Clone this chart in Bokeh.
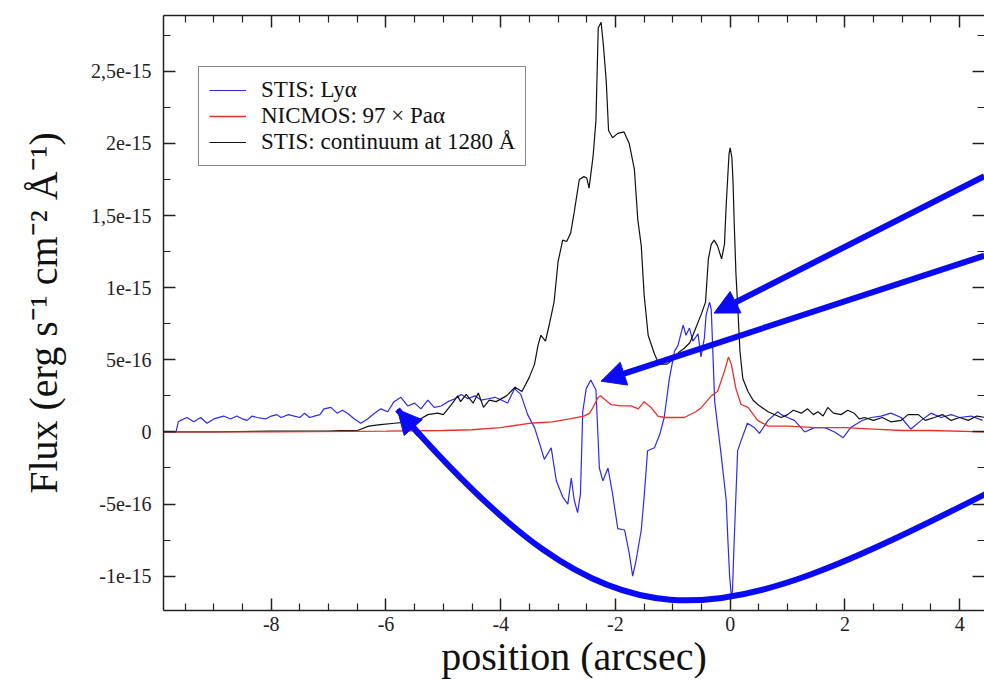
from bokeh.plotting import figure
from bokeh.models import (Range1d, FixedTicker, LinearAxis, Legend, LegendItem,
                          Arrow, NormalHead, ColumnDataSource)
from bokeh.embed import file_html
from bokeh.resources import INLINE

# ---------------- data (flux in units of 1e-15 erg s^-1 cm^-2 A^-1) ----------------
blue_x = [-9.87, -9.66, -9.62, -9.58, -9.47, -9.35, -9.23, -9.12, -9.0, -8.83, -8.71, -8.6,
          -8.5, -8.42, -8.33, -8.25, -8.1, -8.0, -7.9, -7.83, -7.7, -7.6, -7.5, -7.42, -7.33,
          -7.25, -7.15, -7.08, -6.96, -6.85, -6.76, -6.67, -6.55, -6.44, -6.32, -6.2, -6.09,
          -5.97, -5.86, -5.74, -5.62, -5.5, -5.39, -5.27, -5.16, -5.04, -4.92, -4.8, -4.69,
          -4.57, -4.45, -4.34, -4.22, -4.1, -3.98, -3.88, -3.76, -3.65, -3.53, -3.41, -3.30,
          -3.24, -3.12, -3.03, -2.92, -2.83, -2.77, -2.72, -2.66, -2.61, -2.57, -2.51, -2.43,
          -2.34, -2.28, -2.22, -2.13, -2.05, -1.96, -1.84, -1.76, -1.70, -1.64, -1.55, -1.50,
          -1.44, -1.32, -1.23, -1.15, -1.06, -0.97, -0.91, -0.82, -0.77, -0.71, -0.65, -0.56,
          -0.51, -0.45, -0.42, -0.36, -0.33, -0.27, -0.16, -0.07, -0.04, -0.01, 0.02, 0.04,
          0.07, 0.13, 0.19, 0.30, 0.42, 0.51, 0.66, 0.83, 0.89, 1.0, 1.12, 1.3, 1.47, 1.65,
          1.82, 1.97, 2.1, 2.3, 2.46, 2.63, 2.8, 2.98, 3.15, 3.33, 3.5, 3.68, 3.85, 4.0, 4.2, 4.4]
blue_flux = [0.0, 0.0, 0.07, 0.08, 0.10, 0.07, 0.10, 0.06, 0.09, 0.11, 0.09, 0.11,
             0.09, 0.08, 0.11, 0.10, 0.09, 0.11, 0.12, 0.10, 0.12, 0.11, 0.10, 0.13, 0.10,
             0.11, 0.12, 0.16, 0.17, 0.13, 0.15, 0.13, 0.09, 0.06, 0.09, 0.13, 0.16,
             0.14, 0.21, 0.24, 0.18, 0.20, 0.16, 0.22, 0.17, 0.18, 0.21, 0.23, 0.26,
             0.23, 0.25, 0.22, 0.23, 0.24, 0.22, 0.20, 0.30, 0.26, 0.12, 0.03, -0.11,
             -0.19, -0.11, -0.34, -0.45, -0.50, -0.32, -0.47, -0.56, -0.43, 0.14, 0.30, 0.36,
             0.29, -0.25, -0.34, -0.25, -0.43, -0.67, -0.68, -0.84, -1.0, -0.89, -0.68, -0.45,
             -0.13, -0.11, -0.02, 0.10, 0.37, 0.56, 0.60, 0.74, 0.67, 0.72, 0.63, 0.68,
             0.52, 0.65, 0.81, 0.90, 0.85, 0.21, -0.15, -0.47, -0.75, -1.0, -1.14, -1.1,
             -0.75, -0.13, -0.06, 0.06, 0.03, -0.01, 0.08, 0.14, 0.12, 0.10, 0.08, 0.0, 0.03, 0.03,
             0.0, -0.04, 0.03, 0.08, 0.10, 0.11, 0.13, 0.10, 0.02, 0.08, 0.13, 0.10, 0.12, 0.10, 0.11, 0.08]

red_x = [-9.87, -8.0, -6.0, -5.0, -4.5, -4.0, -3.5, -3.1, -2.8, -2.55, -2.45, -2.39, -2.30,
         -2.26, -2.2, -2.08, -1.9, -1.73, -1.6, -1.5, -1.38, -1.26, -1.15, -0.8, -0.6, -0.5,
         -0.33, -0.22, -0.1, -0.03, 0.02, 0.1, 0.19, 0.31, 0.48, 0.66, 1.0, 1.5, 2.0, 2.5,
         3.0, 3.5, 4.45]
red_flux = [0.0, 0.0, 0.005, 0.01, 0.015, 0.03, 0.06, 0.07, 0.09, 0.11, 0.13, 0.17, 0.24,
            0.25, 0.23, 0.19, 0.18, 0.18, 0.16, 0.21, 0.17, 0.11, 0.10, 0.10, 0.14, 0.17,
            0.25, 0.28, 0.42, 0.52, 0.47, 0.30, 0.19, 0.17, 0.08, 0.04, 0.04, 0.03, 0.03, 0.02,
            0.01, 0.01, 0.0]

black_x = [-9.87, -9.6, -9.0, -8.0, -7.0, -6.8, -6.5, -6.3, -6.1, -5.85, -5.6, -5.4, -5.27,
           -5.1, -5.0, -4.86, -4.75, -4.7, -4.6, -4.48, -4.39, -4.3, -4.2, -4.08, -3.9, -3.75,
           -3.63, -3.5, -3.41, -3.35, -3.3, -3.22, -3.15, -3.07, -3.0, -2.92, -2.85, -2.78,
           -2.72, -2.63, -2.55, -2.5, -2.46, -2.39, -2.34, -2.30, -2.25, -2.21, -2.16, -2.12,
           -2.05, -1.96, -1.85, -1.76, -1.67, -1.61, -1.55, -1.5, -1.43, -1.32, -1.24, -1.1,
           -1.0, -0.9, -0.8, -0.7, -0.6, -0.5, -0.43, -0.38, -0.33, -0.28, -0.22, -0.15, -0.1,
           -0.07, -0.02, 0.0, 0.03, 0.05, 0.07, 0.1, 0.14, 0.17, 0.22, 0.31, 0.4, 0.48, 0.66,
           0.89, 1.0, 1.1, 1.24, 1.35, 1.45, 1.53, 1.62, 1.7, 1.8, 1.93, 2.05, 2.16, 2.25, 2.34,
           2.5, 2.65, 2.8, 2.98, 3.1, 3.28, 3.4, 3.56, 3.7, 3.85, 4.0, 4.15, 4.3, 4.45]
black_flux = [0.0, 0.0, 0.0, 0.005, 0.005, 0.01, 0.01, 0.04, 0.05, 0.06, 0.07, 0.09, 0.12,
              0.13, 0.12, 0.19, 0.25, 0.21, 0.26, 0.20, 0.27, 0.17, 0.22, 0.21, 0.25, 0.31,
              0.28, 0.38, 0.47, 0.60, 0.67, 0.63, 0.75, 0.90, 1.18, 1.33, 1.32, 1.38,
              1.52, 1.75, 1.77, 1.76, 1.69, 1.91, 2.16, 2.80, 2.84, 2.68, 2.43, 2.09,
              2.04, 2.07, 2.08, 2.0, 1.82, 1.47, 1.29, 0.95, 0.67, 0.54, 0.47, 0.47,
              0.50, 0.55, 0.58, 0.62, 0.72, 0.82, 0.90, 1.20, 1.30, 1.33, 1.29, 1.20, 1.30,
              1.57, 1.93, 1.97, 1.90, 1.73, 1.45, 1.10, 0.80, 0.56, 0.37, 0.28, 0.22, 0.19, 0.14,
              0.10, 0.12, 0.15, 0.13, 0.16, 0.12, 0.14, 0.11, 0.17, 0.13, 0.12, 0.15, 0.13, 0.09, 0.10,
              0.08, 0.10, 0.07, 0.08, 0.12, 0.12, 0.08, 0.10, 0.12, 0.08, 0.10, 0.08, 0.11, 0.10]

series_labels = ["STIS: Lyα", "NICMOS: 97 × Paα", "STIS: continuum at 1280 Å"]

x_major = [-8, -6, -4, -2, 0, 2, 4]
x_tick_labels = ["-8", "-6", "-4", "-2", "0", "2", "4"]
x_minor = [-9.5, -9, -8.5, -7.5, -7, -6.5, -5.5, -5, -4.5, -3.5, -3, -2.5, -1.5, -1, -0.5,
           0.5, 1, 1.5, 2.5, 3, 3.5, 4.5]
y_major = [-1.0, -0.5, 0.0, 0.5, 1.0, 1.5, 2.0, 2.5]
y_tick_labels = ["-1e-15", "-5e-16", "0", "5e-16", "1e-15", "1,5e-15", "2e-15", "2,5e-15"]
y_minor = [-1.25, -0.75, -0.25, 0.25, 0.75, 1.25, 1.75, 2.25, 2.75]

# annotation arrows (data coordinates)
arrow_x_start = [4.43, 4.43]
arrow_y_start = [1.773, 1.222]
arrow_x_end = [-0.28, -2.25]
arrow_y_end = [0.824, 0.352]
# curved arrow: cubic Bezier (tip, control 1, control 2, far end)
curve_x = [-5.80, -1.96, -0.436, 4.6]
curve_y = [0.156, -1.601, -1.419, -0.40]

# ---------------- figure ----------------
FONT = "Liberation Serif"
AXC = "#222222"
ARROW = "#0a0af5"

p = figure(width=984, height=681, output_backend="svg", toolbar_location=None,
           x_range=Range1d(-9.878, 4.433), y_range=Range1d(-1.238, 2.887),
           min_border_left=163, min_border_right=0, min_border_top=15, min_border_bottom=0,
           x_axis_label="position (arcsec)",
           y_axis_label="Flux (erg s⁻¹ cm⁻² Å⁻¹)")
p.grid.visible = False
p.outline_line_color = None

bottom_ax = p.below[0]
left_ax = p.left[0]

bottom_ax.ticker = FixedTicker(ticks=x_major, minor_ticks=x_minor)
left_ax.ticker = FixedTicker(ticks=y_major, minor_ticks=y_minor)
bottom_ax.major_label_overrides = {float(k): v for k, v in zip(x_major, x_tick_labels)}
left_ax.major_label_overrides = {float(k): v for k, v in zip(y_major, y_tick_labels)}

top_ax = LinearAxis(ticker=FixedTicker(ticks=x_major, minor_ticks=x_minor),
                    major_label_overrides={float(k): "" for k in x_major},
                    major_label_text_font_size="1px", major_label_standoff=0)
right_ax = LinearAxis(ticker=FixedTicker(ticks=y_major, minor_ticks=y_minor),
                      major_label_overrides={float(k): "" for k in y_major},
                      major_label_text_font_size="1px", major_label_standoff=0,
                      axis_line_color=None)
p.add_layout(top_ax, "above")
p.add_layout(right_ax, "right")

for ax in [bottom_ax, left_ax, top_ax, right_ax]:
    ax.major_tick_in = 12
    ax.major_tick_out = 0
    ax.minor_tick_in = 7
    ax.minor_tick_out = 0
    ax.major_tick_line_color = AXC
    ax.minor_tick_line_color = AXC
    ax.major_tick_line_width = 1.5
    ax.minor_tick_line_width = 1.2
    ax.axis_line_width = 1.5
for ax in [bottom_ax, left_ax, top_ax]:
    ax.axis_line_color = AXC

for ax in [bottom_ax, left_ax]:
    ax.major_label_text_font = FONT
    ax.major_label_text_font_size = "20px"
    ax.major_label_text_color = AXC
    ax.axis_label_text_font = FONT
    ax.axis_label_text_font_size = "40px"
    ax.axis_label_text_font_style = "normal"
    ax.axis_label_text_color = "#111111"
bottom_ax.major_label_standoff = 6
bottom_ax.axis_label_standoff = 0
left_ax.major_label_standoff = 12
left_ax.axis_label_standoff = 22

src_b = ColumnDataSource(dict(x=blue_x, y=blue_flux))
src_r = ColumnDataSource(dict(x=red_x, y=red_flux))
src_k = ColumnDataSource(dict(x=black_x, y=black_flux))

r_blue = p.line("x", "y", source=src_b, line_color="#2b2bf0", line_width=1.2)
r_black = p.line("x", "y", source=src_k, line_color="#111111", line_width=1.2)
r_red = p.line("x", "y", source=src_r, line_color="#e8302a", line_width=1.3)

legend = Legend(items=[LegendItem(label=series_labels[0], renderers=[r_blue]),
                       LegendItem(label=series_labels[1], renderers=[r_red]),
                       LegendItem(label=series_labels[2], renderers=[r_black])],
                location=(35, 444), orientation="vertical",
                label_text_font=FONT, label_text_font_size="23px", label_text_color="#111111",
                label_height=22, glyph_height=22, glyph_width=37, label_standoff=15,
                padding=10, spacing=0, margin=0,
                border_line_color="#111111", border_line_width=1.5,
                background_fill_color="white", background_fill_alpha=1.0)
p.add_layout(legend)

# curved arrow body
p.bezier(x0=[curve_x[0]], y0=[curve_y[0]], x1=[curve_x[3]], y1=[curve_y[3]],
         cx0=[curve_x[1]], cy0=[curve_y[1]], cx1=[curve_x[2]], cy1=[curve_y[2]],
         line_color=ARROW, line_width=6)
# curved arrow head
p.add_layout(Arrow(end=NormalHead(size=24, fill_color=ARROW, line_color=ARROW),
                   x_start=curve_x[0] + 0.1 * (curve_x[1] - curve_x[0]),
                   y_start=curve_y[0] + 0.1 * (curve_y[1] - curve_y[0]),
                   x_end=curve_x[0], y_end=curve_y[0],
                   line_color=ARROW, line_width=6))
# straight arrows
for xs, ys, xe, ye in zip(arrow_x_start, arrow_y_start, arrow_x_end, arrow_y_end):
    p.add_layout(Arrow(end=NormalHead(size=24, fill_color=ARROW, line_color=ARROW),
                       x_start=xs, y_start=ys, x_end=xe, y_end=ye,
                       line_color=ARROW, line_width=6))

open("out.html", "w").write(file_html(p, INLINE))
